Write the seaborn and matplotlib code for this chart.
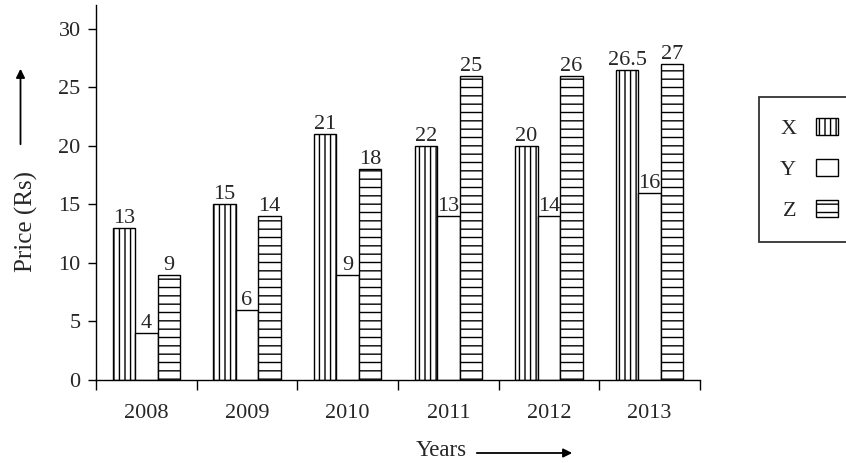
import matplotlib
matplotlib.use("Agg")
import matplotlib.pyplot as plt
import seaborn as sns
import pandas as pd
import numpy as np
from matplotlib.patches import Patch, FancyArrowPatch

years = ["2008", "2009", "2010", "2011", "2012", "2013"]
series = ["X", "Y", "Z"]
x_values = [13, 15, 21, 20, 20, 26.5]
y_values = [4, 6, 9, 14, 14, 16]
z_values = [9, 14, 18, 26, 26, 27]
x_labels = ["13", "15", "21", "22", "20", "26.5"]
y_labels = ["4", "6", "9", "13", "14", "16"]
z_labels = ["9", "14", "18", "25", "26", "27"]
y_ticks = [0, 5, 10, 15, 20, 25, 30]

df = pd.DataFrame({
    "Year": years * 3,
    "Series": ["X"] * 6 + ["Y"] * 6 + ["Z"] * 6,
    "Price": x_values + y_values + z_values,
})

sns.set_theme(style="white")
plt.rcParams["font.family"] = ["Liberation Serif", "DejaVu Serif"]
plt.rcParams["hatch.linewidth"] = 1.0

FS = 16
fig = plt.figure(figsize=(8.46, 4.63), dpi=100)
ax = fig.add_axes([96 / 846, 1 - 380 / 463, (700 - 96) / 846, (380 - 5) / 463])

sns.barplot(data=df, x="Year", y="Price", hue="Series", order=years,
            hue_order=series, palette=["white"] * 3, width=0.67,
            edgecolor="black", linewidth=1.0, dodge=True, legend=False,
            saturation=1, ax=ax)

hatches = ["|||", "", "--"]
labels_all = [x_labels, y_labels, z_labels]
for cont, h, labs in zip(ax.containers, hatches, labels_all):
    for p in cont.patches:
        p.set_hatch(h)
        p.set_facecolor("white")
        p.set_edgecolor("black")
    ax.bar_label(cont, labels=labs, padding=0, fontsize=FS)

ax.set_xlim(-0.5, 5.5)
ax.set_ylim(0, 32.05)
ax.set_yticks(y_ticks)
ax.set_yticklabels([str(t) for t in y_ticks], fontsize=FS)
ax.set_xticks(range(6))
ax.set_xticklabels(years, fontsize=FS)
ax.set_xticks(np.arange(-0.5, 6.0, 1.0), minor=True)
ax.tick_params(axis="x", which="major", length=0, pad=17)
ax.tick_params(axis="x", which="minor", length=7, width=1, color="black", direction="out", bottom=True)
ax.tick_params(axis="y", which="major", length=6, width=1, color="black", direction="out", left=True, pad=5)
ax.set_xlabel("")
ax.set_ylabel("")
for s in ["top", "right"]:
    ax.spines[s].set_visible(False)
for s in ["left", "bottom"]:
    ax.spines[s].set_color("black")
    ax.spines[s].set_linewidth(1.0)

# axis titles with arrows
fig.text(26 / 846, 1 - 222 / 463, "Price (Rs)", rotation=90, fontsize=18,
         ha="center", va="center")
fig.add_artist(FancyArrowPatch(
    (20.5 / 846, 1 - 147 / 463), (20.5 / 846, 1 - 66 / 463),
    transform=fig.transFigure, arrowstyle="-|>", mutation_scale=13,
    color="black", lw=1.3))
fig.text(441 / 846, 1 - 451 / 463, "Years", fontsize=16.5, ha="center", va="center")
fig.add_artist(FancyArrowPatch(
    (474 / 846, 1 - 453 / 463), (575 / 846, 1 - 453 / 463),
    transform=fig.transFigure, arrowstyle="-|>", mutation_scale=13,
    color="black", lw=1.3))

handles = [Patch(facecolor="white", edgecolor="black", hatch=h, linewidth=1.0) for h in hatches]
leg = fig.legend(handles, series, loc="upper left", bbox_to_anchor=(759 / 846, 1 - 97 / 463),
                 markerfirst=False, frameon=True, fancybox=False, fontsize=FS,
                 handlelength=1.0, handleheight=0.77, labelspacing=0.9,
                 handletextpad=0.9, borderpad=0.95, borderaxespad=0)
leg.get_frame().set_edgecolor("black")
leg.get_frame().set_linewidth(1.3)

fig.savefig("out.png", dpi=100, facecolor="white")
